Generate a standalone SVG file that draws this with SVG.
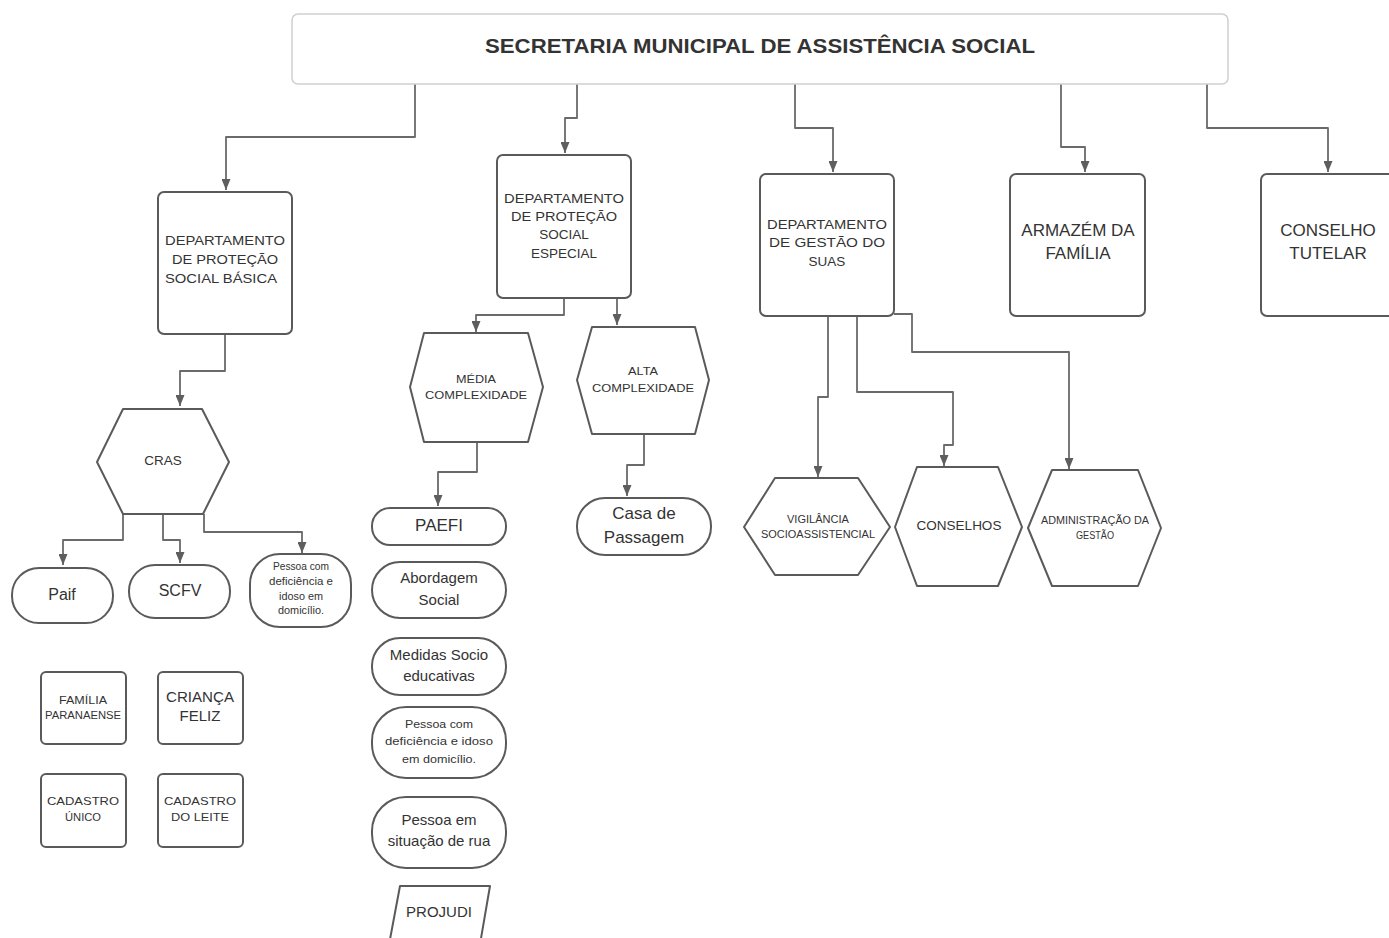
<svg xmlns="http://www.w3.org/2000/svg" width="1389" height="938" viewBox="0 0 1389 938">
<style>
  .bg{fill:#ffffff}
  .box{fill:#ffffff;stroke:#5a5a5a;stroke-width:2;stroke-linejoin:round}
  .hdr{fill:#ffffff;stroke:#cfcfcf;stroke-width:1.5}
  .conn{fill:none;stroke:#6a6a6a;stroke-width:1.8;stroke-linejoin:round}
  text{font-family:"Liberation Sans",Arial,sans-serif;fill:#333333;text-anchor:middle}
  .title{font-size:20px;font-weight:bold}
  .dept{font-size:13.5px}
  .big{font-size:17px}
  .pill{font-size:16px}
  .mid{font-size:15px}
  .sm{font-size:11px}
  .xs{font-size:10px}
</style>
<defs>
  <marker id="arr" viewBox="0 0 11 9" refX="11" refY="4.5" markerWidth="11" markerHeight="9" markerUnits="userSpaceOnUse" orient="auto">
    <path d="M0,0 L11,4.5 L0,9 z" fill="#5e5e5e"/>
  </marker>
</defs>
<rect class="bg" x="0" y="0" width="1389" height="938"/>

<g id="connectors">
  <path class="conn" marker-end="url(#arr)" d="M415,84 V137 H226 V190"/>
  <path class="conn" marker-end="url(#arr)" d="M577,84 V118 H565 V153"/>
  <path class="conn" marker-end="url(#arr)" d="M795,84 V128 H833 V172"/>
  <path class="conn" marker-end="url(#arr)" d="M1061,84 V147 H1085 V172"/>
  <path class="conn" marker-end="url(#arr)" d="M1207,84 V128 H1328 V172"/>
  <path class="conn" marker-end="url(#arr)" d="M225,334 V371 H180 V406"/>
  <path class="conn" marker-end="url(#arr)" d="M123,514 V540 H63 V565"/>
  <path class="conn" marker-end="url(#arr)" d="M163,514 V540 H180 V563"/>
  <path class="conn" marker-end="url(#arr)" d="M204,514 V532 H302 V553"/>
  <path class="conn" marker-end="url(#arr)" d="M564,298 V315 H476 V332"/>
  <path class="conn" marker-end="url(#arr)" d="M617,298 V325"/>
  <path class="conn" marker-end="url(#arr)" d="M477,442 V472 H438 V506"/>
  <path class="conn" marker-end="url(#arr)" d="M644,434 V465 H627 V496"/>
  <path class="conn" marker-end="url(#arr)" d="M828,316 V397 H818 V477"/>
  <path class="conn" marker-end="url(#arr)" d="M857,316 V392 H953 V445 H944 V466"/>
  <path class="conn" marker-end="url(#arr)" d="M894,314 H912 V352 H1069 V469"/>
</g>

<g id="secretaria">
  <rect class="hdr" x="292" y="14" width="936" height="70" rx="6"/>
  <text class="title" x="760" y="53" textLength="550" lengthAdjust="spacingAndGlyphs">SECRETARIA MUNICIPAL DE ASSISTÊNCIA SOCIAL</text>
</g>

<g id="dept-basica">
  <rect class="box" x="158" y="192" width="134" height="142" rx="6"/>
  <text class="dept" x="225" y="245" textLength="120" lengthAdjust="spacingAndGlyphs">DEPARTAMENTO</text>
  <text class="dept" x="225" y="264" textLength="106" lengthAdjust="spacingAndGlyphs">DE PROTEÇÃO</text>
  <text class="dept" x="221" y="283" textLength="112" lengthAdjust="spacingAndGlyphs">SOCIAL BÁSICA</text>
</g>

<g id="dept-especial">
  <rect class="box" x="497" y="155" width="134" height="143" rx="6"/>
  <text class="dept" x="564" y="203" textLength="120" lengthAdjust="spacingAndGlyphs">DEPARTAMENTO</text>
  <text class="dept" x="564" y="221" textLength="106" lengthAdjust="spacingAndGlyphs">DE PROTEÇÃO</text>
  <text class="dept" x="564" y="239">SOCIAL</text>
  <text class="dept" x="564" y="258">ESPECIAL</text>
</g>

<g id="dept-gestao">
  <rect class="box" x="760" y="174" width="134" height="142" rx="6"/>
  <text class="dept" x="827" y="229" textLength="120" lengthAdjust="spacingAndGlyphs">DEPARTAMENTO</text>
  <text class="dept" x="827" y="247" textLength="116" lengthAdjust="spacingAndGlyphs">DE GESTÃO DO</text>
  <text class="dept" x="827" y="266">SUAS</text>
</g>

<g id="armazem">
  <rect class="box" x="1010" y="174" width="135" height="142" rx="6"/>
  <text class="big" x="1078" y="236">ARMAZÉM DA</text>
  <text class="big" x="1078" y="259">FAMÍLIA</text>
</g>

<g id="conselho-tutelar">
  <rect class="box" x="1261" y="174" width="140" height="142" rx="6"/>
  <text class="big" x="1328" y="236">CONSELHO</text>
  <text class="big" x="1328" y="259">TUTELAR</text>
</g>

<g id="cras">
  <polygon class="box" points="123,409 202,409 229,462 203,514 123,514 97,462"/>
  <text class="dept" x="163" y="465">CRAS</text>
</g>

<g id="paif">
  <rect class="box" x="12" y="568" width="101" height="55" rx="27"/>
  <text class="pill" x="62" y="600">Paif</text>
</g>

<g id="scfv">
  <rect class="box" x="129" y="565" width="101" height="53" rx="26"/>
  <text class="pill" x="180" y="596">SCFV</text>
</g>

<g id="pessoa-deficiencia-basica">
  <rect class="box" x="250" y="554" width="101" height="73" rx="30"/>
  <text class="xs" x="301" y="570" textLength="56" lengthAdjust="spacingAndGlyphs">Pessoa com</text>
  <text class="xs" x="301" y="585" textLength="64" lengthAdjust="spacingAndGlyphs">deficiência e</text>
  <text class="xs" x="301" y="600" textLength="44" lengthAdjust="spacingAndGlyphs">idoso em</text>
  <text class="xs" x="301" y="614" textLength="46" lengthAdjust="spacingAndGlyphs">domicílio.</text>
</g>

<g id="familia-paranaense">
  <rect class="box" x="41" y="672" width="85" height="72" rx="5"/>
  <text class="xs" x="83" y="704" textLength="48" lengthAdjust="spacingAndGlyphs">FAMÍLIA</text>
  <text class="xs" x="83" y="719" textLength="76" lengthAdjust="spacingAndGlyphs">PARANAENSE</text>
</g>

<g id="crianca-feliz">
  <rect class="box" x="158" y="672" width="85" height="72" rx="5"/>
  <text class="mid" x="200" y="702" font-size="14" textLength="68" lengthAdjust="spacingAndGlyphs">CRIANÇA</text>
  <text class="mid" x="200" y="721" font-size="14">FELIZ</text>
</g>

<g id="cadastro-unico">
  <rect class="box" x="41" y="774" width="85" height="73" rx="5"/>
  <text class="sm" x="83" y="805" textLength="72" lengthAdjust="spacingAndGlyphs">CADASTRO</text>
  <text class="sm" x="83" y="821" textLength="36" lengthAdjust="spacingAndGlyphs">ÚNICO</text>
</g>

<g id="cadastro-leite">
  <rect class="box" x="158" y="774" width="85" height="73" rx="5"/>
  <text class="sm" x="200" y="805" textLength="72" lengthAdjust="spacingAndGlyphs">CADASTRO</text>
  <text class="sm" x="200" y="821" textLength="58" lengthAdjust="spacingAndGlyphs">DO LEITE</text>
</g>

<g id="media-complexidade">
  <polygon class="box" points="424,333 528,333 543,387 528,442 424,442 410,387"/>
  <text class="sm" x="476" y="383" textLength="40" lengthAdjust="spacingAndGlyphs">MÉDIA</text>
  <text class="sm" x="476" y="399" textLength="102" lengthAdjust="spacingAndGlyphs">COMPLEXIDADE</text>
</g>

<g id="alta-complexidade">
  <polygon class="box" points="592,327 695,327 709,380 695,434 592,434 577,380"/>
  <text class="sm" x="643" y="375" textLength="30" lengthAdjust="spacingAndGlyphs">ALTA</text>
  <text class="sm" x="643" y="392" textLength="102" lengthAdjust="spacingAndGlyphs">COMPLEXIDADE</text>
</g>

<g id="paefi">
  <rect class="box" x="372" y="508" width="134" height="37" rx="18"/>
  <text class="big" x="439" y="531">PAEFI</text>
</g>

<g id="casa-passagem">
  <rect class="box" x="577" y="498" width="134" height="57" rx="28"/>
  <text class="big" x="644" y="519">Casa de</text>
  <text class="big" x="644" y="543">Passagem</text>
</g>

<g id="abordagem-social">
  <rect class="box" x="372" y="562" width="134" height="56" rx="28"/>
  <text class="mid" x="439" y="583">Abordagem</text>
  <text class="mid" x="439" y="605">Social</text>
</g>

<g id="medidas-socioeducativas">
  <rect class="box" x="372" y="638" width="134" height="57" rx="28"/>
  <text class="mid" x="439" y="660" font-size="14">Medidas Socio</text>
  <text class="mid" x="439" y="681" font-size="14">educativas</text>
</g>

<g id="pessoa-deficiencia-especial">
  <rect class="box" x="372" y="707" width="134" height="71" rx="34"/>
  <text class="sm" x="439" y="728" textLength="68" lengthAdjust="spacingAndGlyphs">Pessoa com</text>
  <text class="sm" x="439" y="745" textLength="108" lengthAdjust="spacingAndGlyphs">deficiência e idoso</text>
  <text class="sm" x="439" y="763" textLength="74" lengthAdjust="spacingAndGlyphs">em domicílio.</text>
</g>

<g id="pessoa-situacao-rua">
  <rect class="box" x="372" y="797" width="134" height="71" rx="34"/>
  <text class="mid" x="439" y="825">Pessoa em</text>
  <text class="mid" x="439" y="846">situação de rua</text>
</g>

<g id="projudi">
  <polygon class="box" points="400,886 490,886 479,950 388,950"/>
  <text class="mid" x="439" y="917" font-size="14">PROJUDI</text>
</g>

<g id="vigilancia">
  <polygon class="box" points="775,478 858,478 890,527 858,575 775,575 744,527"/>
  <text class="xs" x="818" y="523" textLength="62" lengthAdjust="spacingAndGlyphs">VIGILÂNCIA</text>
  <text class="xs" x="818" y="538" textLength="114" lengthAdjust="spacingAndGlyphs">SOCIOASSISTENCIAL</text>
</g>

<g id="conselhos">
  <polygon class="box" points="917,467 998,467 1022,527 998,586 917,586 895,527"/>
  <text class="dept" x="959" y="530">CONSELHOS</text>
</g>

<g id="administracao">
  <polygon class="box" points="1052,470 1138,470 1161,528 1138,586 1052,586 1028,528"/>
  <text class="xs" x="1095" y="524" textLength="108" lengthAdjust="spacingAndGlyphs">ADMINISTRAÇÃO DA</text>
  <text class="xs" x="1095" y="539" textLength="38" lengthAdjust="spacingAndGlyphs">GESTÃO</text>
</g>
</svg>
